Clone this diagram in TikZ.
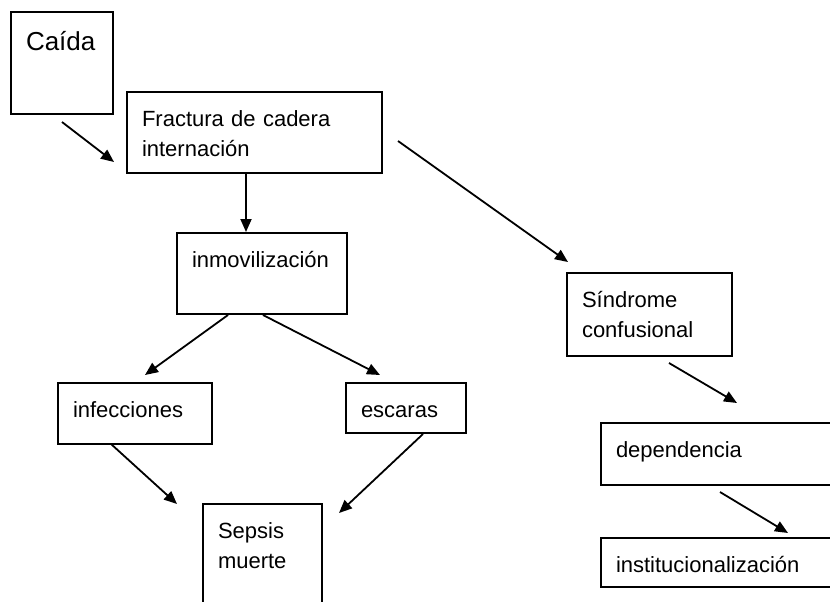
\documentclass[tikz,border=0pt]{standalone}
\usepackage{fontspec}
\setmainfont{Liberation Sans}
\usetikzlibrary{arrows.meta}
\hyphenpenalty=10000
\tikzset{
  box/.style={draw, line width=2.2pt, anchor=north west, inner xsep=15pt, inner ysep=0pt,
    outer sep=0pt, align=left, text height=34pt, font=\fontsize{22}{30}\selectfont},
  arr/.style={black, line width=1.8pt, -{Triangle[length=13pt,width=11pt]}}
}
\begin{document}
\begin{tikzpicture}[x=1pt,y=-1pt]
    % 
    \useasboundingbox (0,0) rectangle (830,602);
    \clip (0,0) rectangle (830,602);
    \fill[white] (0,0) rectangle (830,602);
    % 
    \node[box, text width=72pt, text height=39pt, text depth=63pt, font=\fontsize{26}{30}\selectfont] (caida) at (11,12) {Caída};
    \node[box, text width=225pt, text depth=47pt] (fractura) at (127,92) {Fractura de cadera\\internación};
    \node[box, text width=140pt, text depth=47pt] (inmov) at (177,233) {inmovilización};
    \node[box, text width=135pt, text depth=49pt] (sindrome) at (567,273) {Síndrome\\confusional};
    \node[box, text width=124pt, text depth=27pt] (infecc) at (58,383) {infecciones};
    \node[box, text width=90pt, text depth=16pt] (escaras) at (346,383) {escaras};
    \node[box, text width=89pt, text depth=76pt] (sepsis) at (203,504) {Sepsis\\muerte};
    \node[box, text width=210pt, text depth=28pt] (depend) at (601,423) {dependencia};
    \node[box, text width=210pt, text depth=15pt] (instit) at (601,538) {institucionalización};
    % 
    \draw[arr] ([shift={(0,8)}]caida.south) -- ([shift={(-13,-11)}]fractura.south west);
    \draw[arr] ([shift={(119,0)}]fractura.south west) -- ([shift={(69,-1)}]inmov.north west);
    \draw[arr] ([shift={(16,49)}]fractura.north east) -- ([shift={(1,-11)}]sindrome.north west);
    \draw[arr] ([shift={(51,1)}]inmov.south west) -- ([shift={(87,-8)}]infecc.north west);
    \draw[arr] ([shift={(86,1)}]inmov.south west) -- ([shift={(34,-8)}]escaras.north west);
    \draw[arr] ([shift={(53,0)}]infecc.south west) -- ([shift={(-26,0)}]sepsis.north west);
    \draw[arr] ([shift={(77,1)}]escaras.south west) -- ([shift={(17,9)}]sepsis.north east);
    \draw[arr] ([shift={(102,7)}]sindrome.south west) -- ([shift={(136,-20)}]depend.north west);
    \draw[arr] ([shift={(119,7)}]depend.south west) -- ([shift={(187,-5)}]instit.north west);
\end{tikzpicture}
\end{document}
